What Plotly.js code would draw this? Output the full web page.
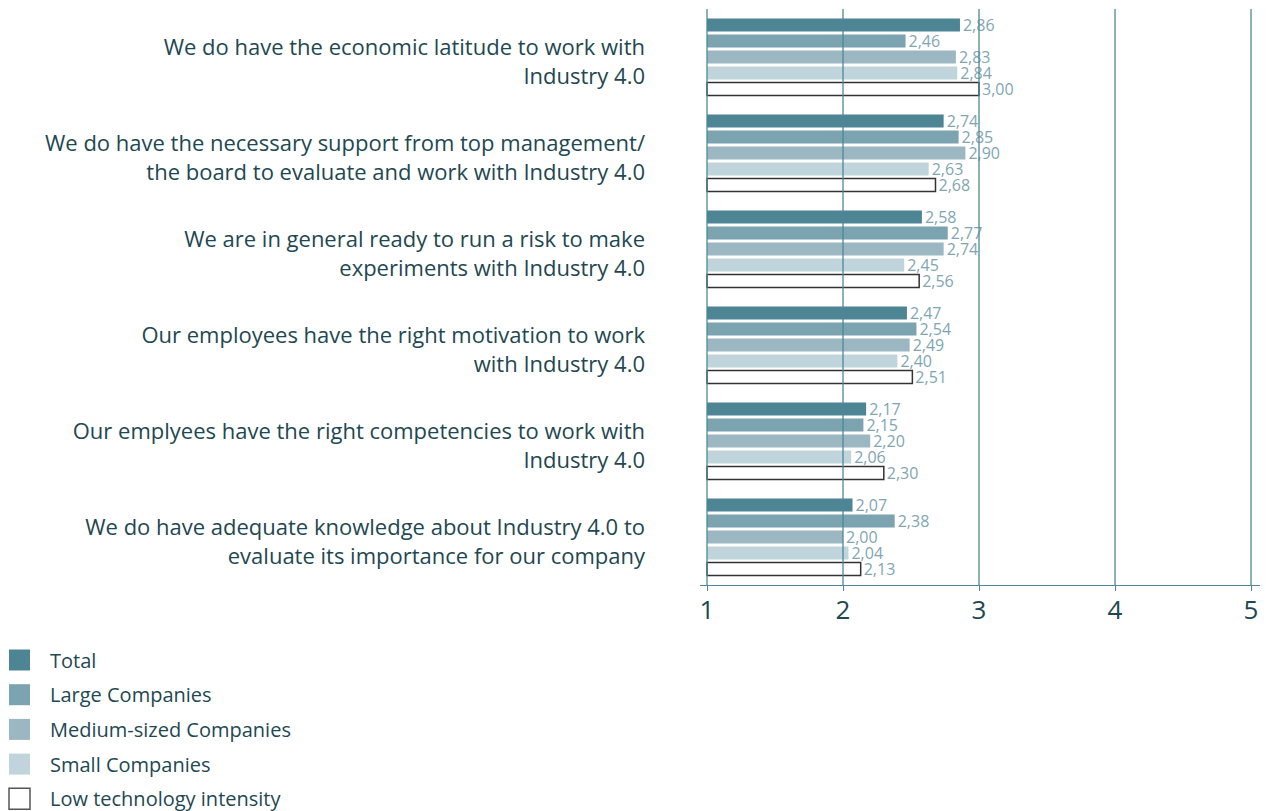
<!DOCTYPE html>
<html>
<head>
<meta charset="utf-8">
<script src="https://cdn.plot.ly/plotly-3.0.1.min.js"></script>
<style>html,body{margin:0;padding:0;background:#fff;}#chart{width:1266px;height:811px;}</style>
</head>
<body>
<div id="chart"></div>
<script>
const categories = [
  "We do have the economic latitude to work with<br>Industry 4.0",
  "We do have the necessary support from top management/<br>the board to evaluate and work with Industry 4.0",
  "We are in general ready to run a risk to make<br>experiments with Industry 4.0",
  "Our employees have the right motivation to work<br>with Industry 4.0",
  "Our emplyees have the right competencies to work with<br>Industry 4.0",
  "We do have adequate knowledge about Industry 4.0 to<br>evaluate its importance for our company"
];
const seriesNames = ["Total", "Large Companies", "Medium-sized Companies", "Small Companies", "Low technology intensity"];
const total  = [2.86, 2.74, 2.58, 2.47, 2.17, 2.07];
const large  = [2.46, 2.85, 2.77, 2.54, 2.15, 2.38];
const medium = [2.83, 2.90, 2.74, 2.49, 2.20, 2.00];
const small  = [2.84, 2.63, 2.45, 2.40, 2.06, 2.04];
const lowTech = [3.00, 2.68, 2.56, 2.51, 2.30, 2.13];
const xTicks = [1, 2, 3, 4, 5];
const scaleMin = 1;

const seriesValues = [total, large, medium, small, lowTech];
const fills = ["#4d8595", "#7ba3b0", "#9bb8c2", "#bfd5db", "#ffffff"];
const outlines = ["rgba(0,0,0,0)", "rgba(0,0,0,0)", "rgba(0,0,0,0)", "rgba(0,0,0,0)", "#333333"];
const lineColor = "#4f8796";
const darkText = "#1e4852";
const valueColor = "#7fa6b2";

const W = 1266, H = 811;
const M = {l: 700, r: 6, t: 9, b: 226};
const pw = W - M.l - M.r, ph = H - M.t - M.b;
const px2x = p => (p - M.l) / pw;
const py2y = p => (H - M.b - p) / ph;

const fmt = v => v.toFixed(2).replace('.', ',');

const traces = seriesValues.map((vals, i) => ({
  type: 'bar',
  orientation: 'h',
  name: seriesNames[i],
  y: categories,
  x: vals.map(v => v - scaleMin),
  base: scaleMin,
  text: vals.map(fmt),
  textposition: 'outside',
  constraintext: 'none',
  cliponaxis: false,
  textfont: {family: 'Open Sans', size: 16, color: valueColor},
  marker: {color: fills[i], line: {color: outlines[i], width: i === 4 ? 1.5 : 0}},
  hovertemplate: '%{text}<extra>' + seriesNames[i] + '</extra>',
  showlegend: false
}));

const shapes = [];
const annotations = [];
// grid lines drawn above bars
xTicks.forEach(t => {
  shapes.push({type: 'line', xref: 'x', yref: 'paper', x0: t, x1: t, y0: 0, y1: 1,
    line: {color: lineColor, width: 1.3}, layer: 'above'});
});
// manual legend
const legendTop = 660, legendStep = 34.7, sq = 21;
seriesNames.forEach((n, i) => {
  const cy = legendTop + i * legendStep;
  shapes.push({type: 'rect', xref: 'paper', yref: 'paper',
    x0: px2x(9), x1: px2x(9 + sq), y0: py2y(cy - sq / 2), y1: py2y(cy + sq / 2),
    fillcolor: fills[i], line: {color: i === 4 ? '#555555' : fills[i], width: i === 4 ? 1.5 : 0}});
  annotations.push({xref: 'paper', yref: 'paper', x: px2x(48), y: py2y(cy), xanchor: 'left', yanchor: 'middle',
    text: n, showarrow: false, font: {family: 'Open Sans', size: 20, color: darkText}});
});

const layout = {
  width: W, height: H,
  margin: M,
  paper_bgcolor: '#fff', plot_bgcolor: '#fff',
  barmode: 'group',
  bargap: 1 / 6,
  bargroupgap: 0.1875,
  showlegend: false,
  xaxis: {
    range: [0.9485, 5.066],
    tickvals: xTicks,
    ticktext: xTicks.map(String),
    showgrid: false,
    zeroline: false,
    showline: true,
    linecolor: lineColor,
    linewidth: 1.3,
    ticks: 'outside',
    ticklen: 5,
    tickcolor: lineColor,
    tickwidth: 1.3,
    ticklabelstandoff: -3,
    tickfont: {family: 'Open Sans', size: 26, color: darkText},
    fixedrange: true
  },
  yaxis: {
    autorange: 'reversed',
    showgrid: false,
    zeroline: false,
    showline: false,
    ticks: '',
    ticklabelstandoff: 54,
    ticklabelshift: -5,
    tickfont: {family: 'Open Sans', size: 22, color: darkText},
    fixedrange: true
  },
  shapes: shapes,
  annotations: annotations
};

Plotly.newPlot('chart', traces, layout, {displayModeBar: false, responsive: false});
</script>
</body>
</html>
